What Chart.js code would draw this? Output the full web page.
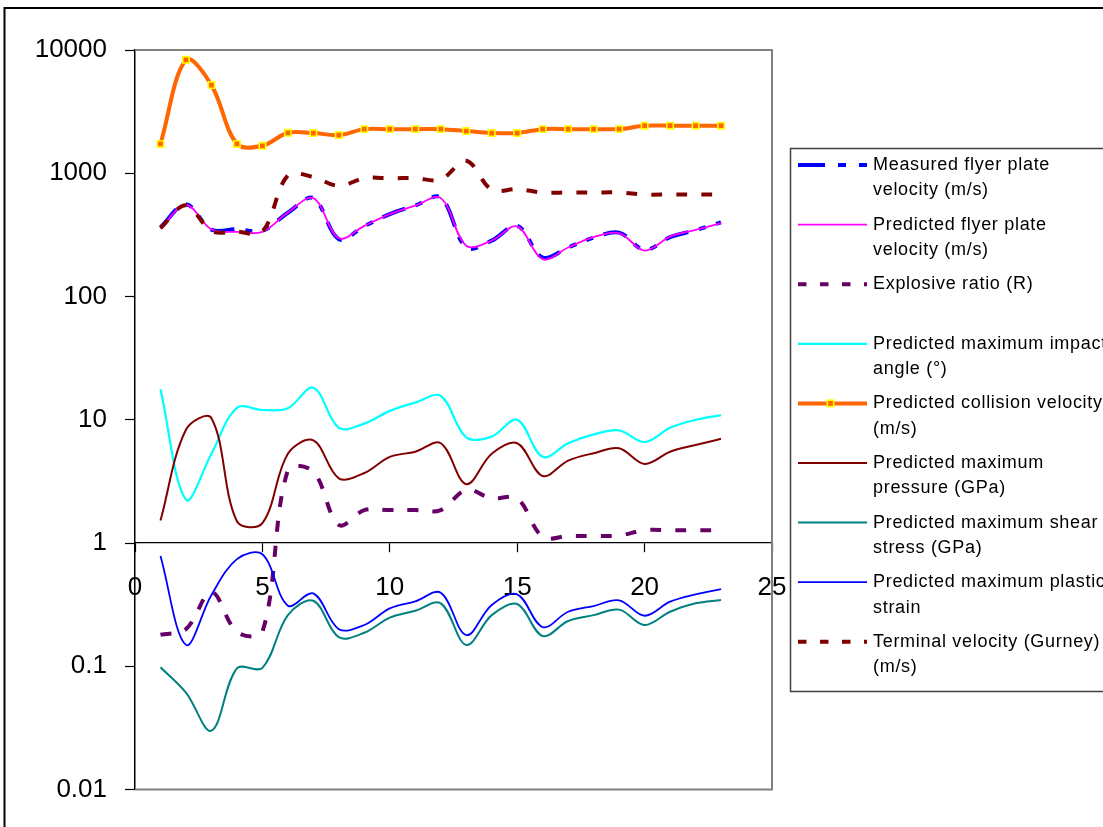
<!DOCTYPE html>
<html>
<head>
<meta charset="utf-8">
<title>Flyer plate results</title>
<script src="https://cdn.jsdelivr.net/npm/chart.js@4/dist/chart.umd.min.js"></script>
<style>
  html, body { margin: 0; padding: 0; background: #ffffff; }
  canvas { display: block; }
</style>
</head>
<body>
<canvas id="chart" width="1103" height="827"></canvas>
<script>
// Shot number along the horizontal axis
const shots = [1, 2, 3, 4, 5, 6, 7, 8, 9, 10, 11, 12, 13, 14, 15, 16, 17, 18, 19, 20, 21, 22, 23];

// Series values, one per shot
const measuredVelocity  = [365, 560, 348, 352, 342, 478, 628, 292, 372, 466, 548, 635, 250, 284, 375, 207, 250, 300, 330, 239, 303, 345, 400];
const predictedVelocity = [358, 554, 350, 335, 335, 480, 628, 297, 374, 466, 547, 628, 258, 284, 370, 201, 250, 303, 327, 236, 306, 347, 394];
const explosiveRatio    = [0.18, 0.20, 0.40, 0.19, 0.19, 3.9, 3.8, 1.4, 1.85, 1.85, 1.85, 1.85, 2.7, 2.3, 2.3, 1.12, 1.14, 1.14, 1.15, 1.27, 1.27, 1.27, 1.27];
const impactAngle       = [17.7, 2.25, 5.3, 12.5, 12.0, 12.4, 18.2, 8.6, 9.3, 11.8, 13.8, 15.6, 7.2, 7.3, 10.0, 5.0, 6.45, 7.6, 8.2, 6.6, 8.6, 10.0, 10.9];
const collisionVelocity = [1730, 8320, 5190, 1730, 1670, 2130, 2120, 2040, 2280, 2280, 2280, 2280, 2200, 2120, 2120, 2280, 2280, 2280, 2280, 2430, 2430, 2430, 2430];
const maxPressure       = [1.52, 8.3, 10.3, 1.5, 1.45, 5.3, 6.8, 3.35, 3.7, 5.0, 5.5, 6.45, 3.0, 5.3, 6.45, 3.5, 4.66, 5.35, 5.87, 4.38, 5.5, 6.24, 7.0];
const maxShearStress    = [0.098, 0.061, 0.030, 0.096, 0.097, 0.26, 0.34, 0.172, 0.187, 0.248, 0.282, 0.324, 0.149, 0.26, 0.32, 0.176, 0.233, 0.26, 0.288, 0.216, 0.277, 0.324, 0.345];
const maxPlasticStrain  = [0.784, 0.149, 0.378, 0.74, 0.81, 0.31, 0.39, 0.20, 0.216, 0.295, 0.336, 0.395, 0.179, 0.314, 0.383, 0.208, 0.277, 0.308, 0.343, 0.257, 0.334, 0.383, 0.423];
const gurneyVelocity    = [358, 550, 340, 336, 336, 960, 930, 790, 912, 912, 912, 890, 1262, 735, 743, 698, 698, 698, 698, 672, 672, 672, 672];

// Legend text, split into the lines it is shown on
const seriesLabels = [
  ['Measured flyer plate', 'velocity (m/s)'],
  ['Predicted flyer plate', 'velocity (m/s)'],
  ['Explosive ratio (R)', ''],
  ['Predicted maximum impact', 'angle (°)'],
  ['Predicted collision velocity', '(m/s)'],
  ['Predicted maximum', 'pressure (GPa)'],
  ['Predicted maximum shear', 'stress (GPa)'],
  ['Predicted maximum plastic', 'strain'],
  ['Terminal velocity (Gurney)', '(m/s)']
];

// Axis ticks
const xTickValues = [0, 5, 10, 15, 20, 25];
const yTickValues = [0.01, 0.1, 1, 10, 100, 1000, 10000];
const yTickLabels = ['0.01', '0.1', '1', '10', '100', '1000', '10000'];

const FONT = '"Liberation Sans", Arial, Helvetica, sans-serif';

const pts = (arr) => shots.map((x, i) => ({ x: x, y: arr[i] }));

const seriesValues = [measuredVelocity, predictedVelocity, explosiveRatio, impactAngle,
  collisionVelocity, maxPressure, maxShearStress, maxPlasticStrain, gurneyVelocity];

const seriesStyles = [
  { color: '#0000FF', width: 4,   dash: [24, 11, 7, 11, 7, 11], legendDash: [27, 13, 8, 13] },
  { color: '#FF00FF', width: 1.8, dash: [] },
  { color: '#660066', width: 4,   dash: [11, 14], legendDash: [8.5, 13.5] },
  { color: '#00FFFF', width: 2.2, dash: [] },
  { color: '#FF6600', width: 4,   dash: [], marker: true },
  { color: '#800000', width: 2,   dash: [] },
  { color: '#008080', width: 2,   dash: [] },
  { color: '#0000FF', width: 1.8, dash: [] },
  { color: '#800000', width: 4,   dash: [11, 14], legendDash: [8.5, 13.5] }
];

const datasets = seriesValues.map((vals, i) => {
  const s = seriesStyles[i];
  return {
    label: seriesLabels[i].join(' ').trim(),
    data: pts(vals),
    borderColor: s.color,
    backgroundColor: s.color,
    borderWidth: s.width,
    borderDash: s.dash,
    borderCapStyle: 'butt',
    fill: false,
    tension: 0.35,
    order: -i,               // later series are painted over earlier ones
    pointRadius: s.marker ? 4.5 : 0,
    pointHoverRadius: s.marker ? 4.5 : 0,
    pointStyle: 'rect',
    pointBorderColor: s.marker ? '#FFFF00' : s.color,
    pointBackgroundColor: s.marker ? '#FF6600' : s.color,
    pointBorderWidth: s.marker ? 1.6 : 0
  };
});

// White page, outer frame and the grey frame round the plot area
const framePlugin = {
  id: 'frame',
  beforeDraw(chart) {
    const c = chart.ctx;
    c.save();
    c.fillStyle = '#ffffff';
    c.fillRect(0, 0, chart.width, chart.height);
    c.strokeStyle = '#000000';
    c.lineWidth = 2;
    c.beginPath();
    c.moveTo(4.5, chart.height + 5);
    c.lineTo(4.5, 8);
    c.lineTo(chart.width + 5, 8);
    c.stroke();
    c.restore();
  },
  beforeDatasetsDraw(chart) {
    const a = chart.chartArea;
    const c = chart.ctx;
    c.save();
    c.strokeStyle = '#808080';
    c.lineWidth = 2;
    c.beginPath();
    c.moveTo(a.left, a.top);
    c.lineTo(a.right, a.top);
    c.lineTo(a.right, a.bottom);
    c.lineTo(a.left, a.bottom);
    c.stroke();
    c.restore();
  }
};

// Boxed legend on the right with two-line entries
const legendPlugin = {
  id: 'sideLegend',
  afterDraw(chart) {
    const c = chart.ctx;
    const box = { x: 790.5, y: 148.5, w: 400, h: 543 };
    const firstY = 165, step = 59.6, lineGap = 25.5;
    const x0 = 798, x1 = 867, tx = 873;
    c.save();
    c.strokeStyle = '#404040';
    c.lineWidth = 1.5;
    c.strokeRect(box.x, box.y, box.w, box.h);
    c.font = '18px ' + FONT;
    if ('letterSpacing' in c) c.letterSpacing = '0.7px';
    c.textBaseline = 'middle';
    c.textAlign = 'left';
    chart.data.datasets.forEach((ds, i) => {
      const s = seriesStyles[i];
      const y = firstY + step * i;
      c.save();
      c.strokeStyle = s.color;
      c.lineWidth = s.width;
      c.lineCap = 'butt';
      c.setLineDash(s.legendDash || s.dash);
      c.beginPath();
      c.moveTo(x0, y);
      c.lineTo(x1, y);
      c.stroke();
      if (s.marker) {
        c.setLineDash([]);
        c.fillStyle = '#FF6600';
        c.strokeStyle = '#FFFF00';
        c.lineWidth = 1.6;
        const mx = (x0 + x1) / 2 - 2;
        c.fillRect(mx - 3.2, y - 3.2, 6.4, 6.4);
        c.strokeRect(mx - 3.2, y - 3.2, 6.4, 6.4);
      }
      c.restore();
      c.fillStyle = '#000000';
      seriesLabels[i].forEach((line, j) => {
        if (line) c.fillText(line, tx, y + j * lineGap);
      });
    });
    c.restore();
  }
};

new Chart(document.getElementById('chart'), {
  type: 'line',
  data: { datasets: datasets },
  options: {
    responsive: false,
    animation: false,
    devicePixelRatio: 1,
    layout: { padding: { left: 0, top: 50, right: 331, bottom: 37.5 } },
    plugins: {
      legend: { display: false },
      tooltip: { enabled: false }
    },
    scales: {
      x: {
        type: 'linear',
        min: 0,
        max: 25,
        position: { y: 1 },
        afterBuildTicks: (scale) => { scale.ticks = xTickValues.map(v => ({ value: v })); },
        afterFit: (scale) => { scale.height = 0; },
        ticks: {
          color: '#000000',
          font: { family: FONT, size: 26 },
          padding: 20,
          maxRotation: 0,
          autoSkip: false
        },
        grid: { drawOnChartArea: false, tickLength: 9, color: '#000000', tickWidth: 1.2 },
        border: { color: '#000000', width: 1.2 }
      },
      y: {
        type: 'logarithmic',
        min: 0.01,
        max: 10000,
        position: 'left',
        afterBuildTicks: (scale) => { scale.ticks = yTickValues.map(v => ({ value: v, major: true })); },
        afterFit: (scale) => { scale.width = 135; },
        ticks: {
          color: '#000000',
          font: { family: FONT, size: 26 },
          padding: 18,
          autoSkip: false,
          callback: (v) => {
            const k = yTickValues.findIndex(t => Math.abs(t - v) < t * 1e-6);
            return k >= 0 ? yTickLabels[k] : '';
          }
        },
        grid: { drawOnChartArea: false, tickLength: 10, color: '#000000', tickWidth: 1.2 },
        border: { color: '#000000', width: 1.5 }
      }
    }
  },
  plugins: [framePlugin, legendPlugin]
});
</script>
</body>
</html>
